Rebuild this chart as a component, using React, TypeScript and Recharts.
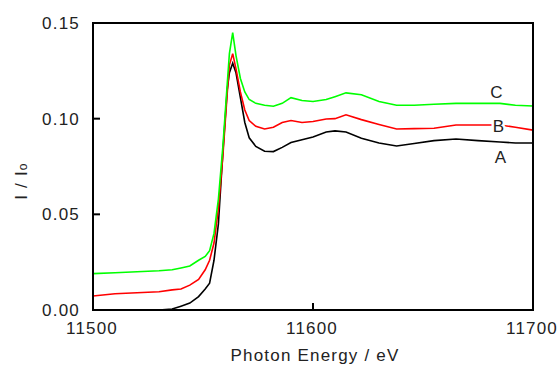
import React from 'react';
import { LineChart, Line, XAxis, YAxis, Label } from 'recharts';

const energy = [
  11500, 11510, 11520, 11530, 11536, 11540, 11544, 11548, 11551, 11553, 11555, 11557, 11559, 11561,
  11562, 11563.5, 11565, 11567, 11569, 11571, 11574, 11578, 11582, 11586, 11590, 11595, 11600, 11606,
  11610, 11615, 11622, 11630, 11638, 11646, 11655, 11665, 11675, 11685, 11692, 11700,
];

const seriesC = [
  0.019, 0.0195, 0.02, 0.0205, 0.021, 0.022, 0.023, 0.026, 0.028, 0.031, 0.04, 0.058, 0.085, 0.118,
  0.134, 0.145, 0.133, 0.121, 0.114, 0.11, 0.108, 0.107, 0.1065, 0.108, 0.111, 0.1095, 0.109, 0.11,
  0.1115, 0.1135, 0.1125, 0.109, 0.107, 0.107, 0.1075, 0.108, 0.108, 0.108, 0.107, 0.1066,
];

const seriesB = [
  0.0073, 0.0085, 0.009, 0.0095, 0.0105, 0.011, 0.013, 0.016, 0.021, 0.026, 0.035, 0.053, 0.08, 0.113,
  0.128, 0.134, 0.126, 0.114, 0.1045, 0.099, 0.096, 0.0946, 0.0955, 0.098, 0.099, 0.098, 0.0985, 0.0998,
  0.1, 0.102, 0.0995, 0.097, 0.0946, 0.0948, 0.095, 0.0967, 0.0967, 0.0967, 0.0955, 0.094,
];

const seriesA = [
  0, 0, 0, 0, 0.0005, 0.002, 0.0036, 0.007, 0.011, 0.014, 0.026, 0.045, 0.082, 0.115,
  0.124, 0.129, 0.124, 0.111, 0.098, 0.09, 0.0855, 0.083, 0.0828, 0.085, 0.0875, 0.089, 0.0904, 0.093,
  0.0936, 0.093, 0.0898, 0.0873, 0.0857, 0.087, 0.0885, 0.0894, 0.0885, 0.0878, 0.0873, 0.0873,
];

const xTicks = [11500, 11600, 11700];
const yTicks = [0, 0.05, 0.1, 0.15];

// curve names, placed next to the point at 11685 eV
const labelIndex = 37;

const data = energy.map((e, i) => ({ e, a: seriesA[i], b: seriesB[i], c: seriesC[i] }));

const W = 558;
const H = 365;
const margin = { top: 23, right: 25, bottom: 25, left: 0 };
const yAxisW = 93;
const xAxisH = 30;
const plotW = W - margin.left - margin.right - yAxisW;
const plotH = H - margin.top - margin.bottom - xAxisH;

const FONT = 'Liberation Sans, Arial, sans-serif';
const textStyle = { fontFamily: FONT, fontSize: 17, letterSpacing: 1.2, fill: '#222' };
const frame = { stroke: '#000', strokeWidth: 2 };

const YTick = (props: any) => {
  const { x, y, payload } = props;
  const v = payload.value;
  const ax = x + 13;
  const inner = v > 0 && v < 0.15;
  return (
    <g>
      {inner && <line x1={ax} x2={ax + 7} y1={y} y2={y} stroke="#000" strokeWidth={2} />}
      <text x={x} y={y} dy="0.36em" textAnchor="end" style={textStyle}>
        {v.toFixed(2)}
      </text>
    </g>
  );
};

const XTick = (props: any) => {
  const { x, y, payload } = props;
  const v = payload.value;
  const ay = y - 12;
  const inner = v > 11500 && v < 11700;
  return (
    <g>
      {inner && <line x1={x} x2={x} y1={ay} y2={ay - 7} stroke="#000" strokeWidth={2} />}
      <text x={x - 1} y={y} dy="0.72em" textAnchor="middle" style={textStyle}>
        {v}
      </text>
    </g>
  );
};

const curveLabel = (name: string, dx: number, dy: number) => (p: any) => {
  if (p.index !== labelIndex) return null;
  return (
    <text
      key={name}
      x={p.x + dx}
      y={p.y + dy}
      dy="0.36em"
      textAnchor="middle"
      style={{ ...textStyle, stroke: '#fff', strokeWidth: 5, paintOrder: 'stroke' }}
    >
      {name}
    </text>
  );
};

export default function App() {
  return (
    <div style={{ position: 'absolute', left: 0, top: 0, width: W, height: H, background: '#fff' }}>
      <LineChart width={W} height={H} data={data} margin={margin}>
        <XAxis
          dataKey="e"
          type="number"
          domain={[11500, 11700]}
          ticks={xTicks}
          height={xAxisH}
          tickSize={0}
          tickMargin={12}
          tick={<XTick />}
          axisLine={frame}
          tickLine={false}
        >
          <Label
            content={() => (
              <text x={315} y={361} textAnchor="middle" style={textStyle}>
                Photon Energy / eV
              </text>
            )}
          />
        </XAxis>
        <YAxis
          type="number"
          domain={[0, 0.15]}
          ticks={yTicks}
          width={yAxisW}
          tickSize={0}
          tickMargin={13}
          tick={<YTick />}
          axisLine={frame}
          tickLine={false}
        >
          <Label
            content={() => (
              <text x={27} y={181} textAnchor="middle" transform="rotate(-90 27 181)" style={textStyle}>
                I / I<tspan fontSize={12}>o</tspan>
              </text>
            )}
          />
        </YAxis>
        <Line dataKey="a" stroke="#000000" strokeWidth={1.6} dot={false} type="linear" isAnimationActive={false} label={curveLabel('A', 1, 15)} />
        <Line dataKey="b" stroke="#ff0000" strokeWidth={1.6} dot={false} type="linear" isAnimationActive={false} label={curveLabel('B', -1, 1)} />
        <Line dataKey="c" stroke="#00ff00" strokeWidth={1.6} dot={false} type="linear" isAnimationActive={false} label={curveLabel('C', -3, -11)} />
      </LineChart>
      {/* box round the plot area */}
      <div
        style={{
          position: 'absolute',
          left: margin.left + yAxisW - 1,
          top: margin.top - 1,
          width: plotW + 2,
          height: plotH + 2,
          border: '2px solid #000',
          boxSizing: 'border-box',
          pointerEvents: 'none',
        }}
      />
    </div>
  );
}
